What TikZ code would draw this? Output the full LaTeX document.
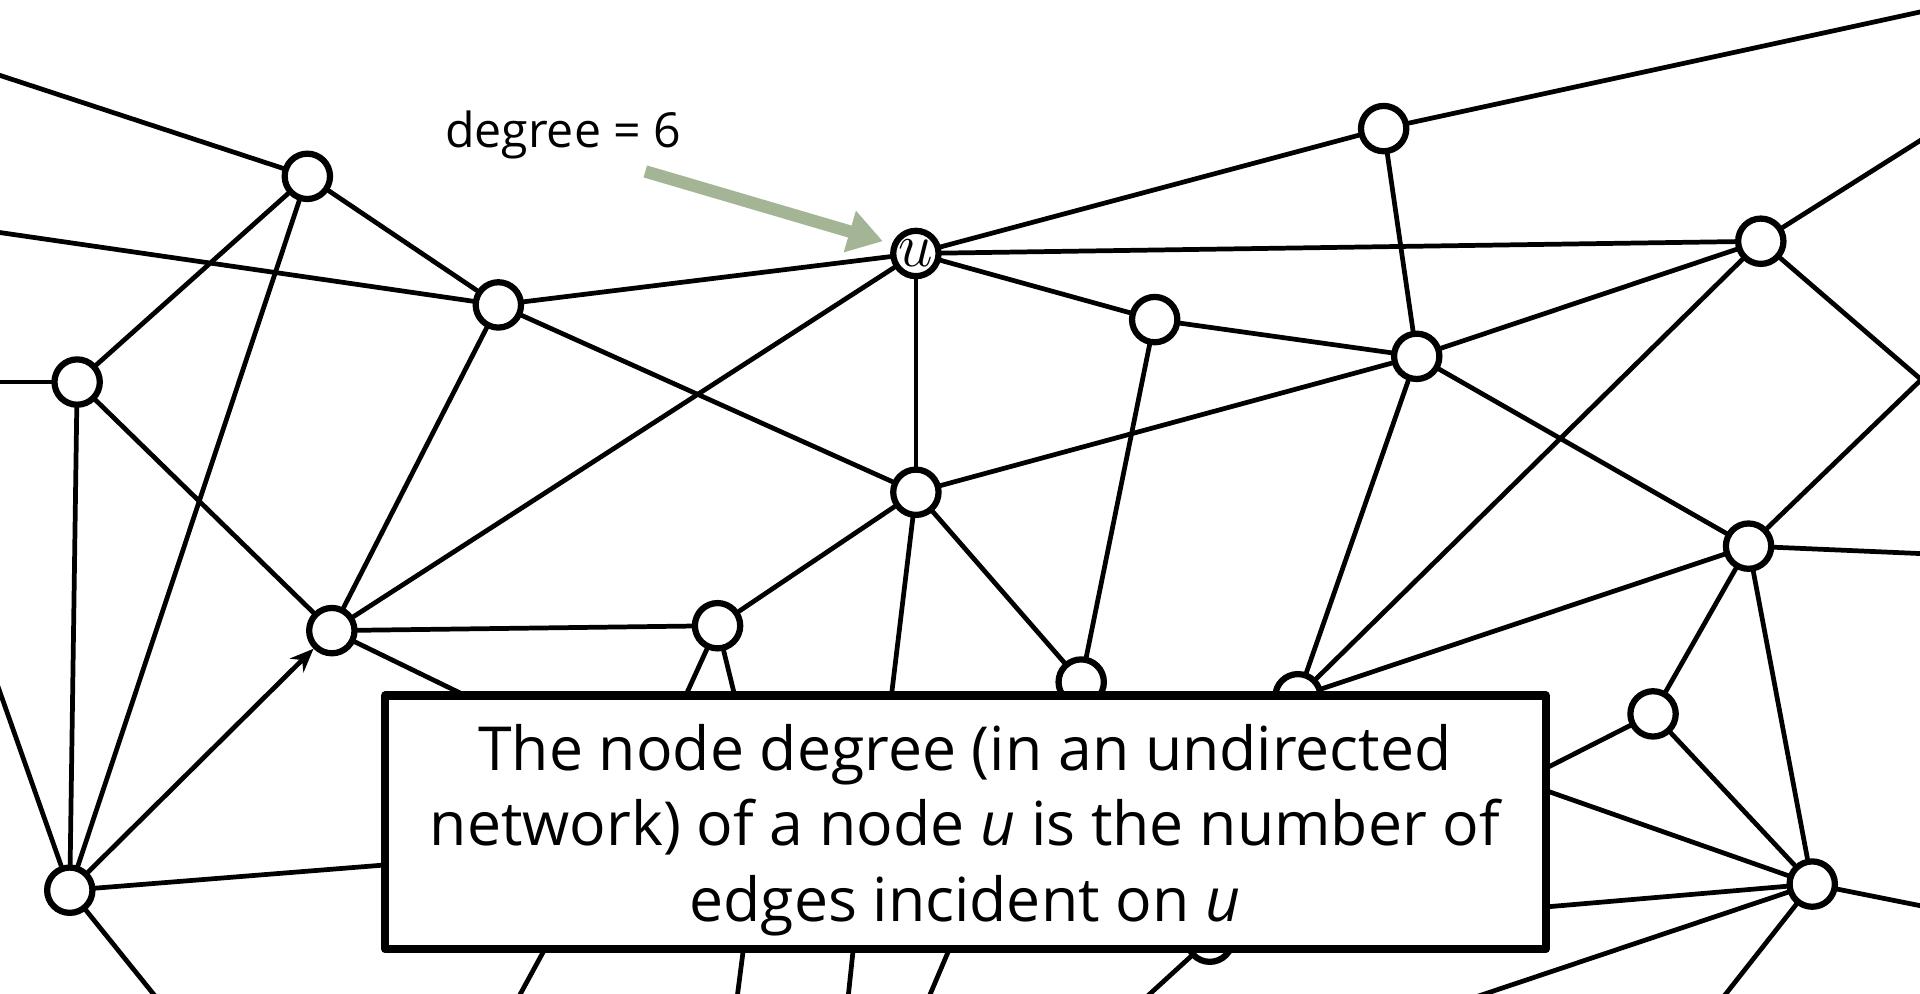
\documentclass[tikz,border=0pt]{standalone}
\usepackage{fontspec}
\setmainfont{Open Sans}
\usetikzlibrary{arrows.meta}
\definecolor{sage}{RGB}{163,181,149}
\begin{document}
\begin{tikzpicture}[x=0.01cm,y=-0.01cm,
  vert/.style={circle,draw=black,fill=white,line width=1.45pt,minimum size=0.37cm,inner sep=0pt},
  edge/.style={line width=1.1pt,black,line cap=round},
  ]
\useasboundingbox (0,0) rectangle (1568,811);
\clip (0,0) rectangle (1568,811);
% visible nodes
\node[vert] (n1) at (251,144) {};
\node[vert] (n2) at (407,249) {};
\node[vert,font=\fontsize{15}{15}\selectfont] (u) at (748,207) {$u$};
\node[vert] (n4) at (1130,105) {};
\node[vert] (n5) at (1438,197) {};
\node[vert] (n6) at (63,312) {};
\node[vert] (n7) at (943,261) {};
\node[vert] (n8) at (1157,291) {};
\node[vert] (n9) at (748,402) {};
\node[vert] (n10) at (1428,446) {};
\node[vert] (n11) at (271,515) {};
\node[vert] (n12) at (586,511) {};
\node[vert] (n13) at (883,557) {};
\node[vert] (n14) at (1060,569) {};
\node[vert] (n15) at (1350,583) {};
\node[vert] (n16) at (57,727) {};
\node[vert] (n17) at (1480,722) {};
\node[vert] (n18) at (988,767) {};
% off-canvas ends
\coordinate (l1) at (-20,55);
\coordinate (l2) at (-20,187);
\coordinate (l3) at (-20,312);
\coordinate (l4) at (-10,537);
\coordinate (l5) at (140,830);
\coordinate (r1) at (1590,5);
\coordinate (r2) at (1590,101);
\coordinate (r3) at (1569,310);
\coordinate (r4) at (1590,453);
\coordinate (r5) at (1590,744);
\coordinate (r6) at (1395,830);
\coordinate (r7) at (1158,830);
\coordinate (r8) at (919,830);
% hidden ends under the box
\coordinate (h1) at (489,621);
\coordinate (h2) at (444,696);
\coordinate (h3) at (534,625);
\coordinate (h4) at (614,625);
\coordinate (h5) at (722,618);
\coordinate (h6) at (1218,650);
\coordinate (h7) at (1218,630);
\coordinate (h8) at (1200,746);
\coordinate (b1i) at (464,740);
\coordinate (b1o) at (415,830);
\coordinate (b2i) at (611,745);
\coordinate (b2o) at (600,830);
\coordinate (b3i) at (700,745);
\coordinate (b3o) at (691,830);
\coordinate (b4i) at (788,745);
\coordinate (b4o) at (752,830);
% edges
\draw[edge] (l1) -- (n1);
\draw[edge] (l2) -- (n2);
\draw[edge] (l3) -- (n6);
\draw[edge] (n1) -- (n6);
\draw[edge] (n1) -- (n2);
\draw[edge] (n1) -- (n16);
\draw[edge] (n2) -- (u);
\draw[edge] (n2) -- (n9);
\draw[edge] (n2) -- (n11);
\draw[edge] (n6) -- (n11);
\draw[edge] (n6) -- (n16);
\draw[edge] (u) -- (n11);
\draw[edge] (u) -- (n9);
\draw[edge] (u) -- (n7);
\draw[edge] (u) -- (n5);
\draw[edge] (u) -- (n4);
\draw[edge] (n4) -- (r1);
\draw[edge] (n4) -- (n8);
\draw[edge] (n5) -- (r2);
\draw[edge] (n5) -- (n8);
\draw[edge] (n5) -- (n14);
\draw[edge] (n5) -- (r3);
\draw[edge] (n10) -- (r3);
\draw[edge] (n7) -- (n8);
\draw[edge] (n7) -- (n13);
\draw[edge] (n8) -- (n9);
\draw[edge] (n8) -- (n14);
\draw[edge] (n8) -- (n10);
\draw[edge] (n10) -- (r4);
\draw[edge] (n10) -- (n14);
\draw[edge] (n10) -- (n15);
\draw[edge] (n10) -- (n17);
\draw[edge] (n15) -- (n17);
\draw[edge] (n15) -- (h6);
\draw[edge] (n17) -- (h7);
\draw[edge] (n17) -- (h8);
\draw[edge] (n17) -- (r5);
\draw[edge] (n17) -- (r6);
\draw[edge] (n17) -- (r7);
\draw[edge] (n18) -- (r8);
\draw[edge] (n16) -- (l4);
\draw[edge] (n16) -- (l5);
\draw[edge] (n16) -- (h2);
\draw[edge,-{Stealth[length=5.5pt,width=4.5pt]}] (n16) -- (n11);
\draw[edge] (n11) -- (n12);
\draw[edge] (n11) -- (h1);
\draw[edge] (n12) -- (n9);
\draw[edge] (n12) -- (h3);
\draw[edge] (n12) -- (h4);
\draw[edge] (n9) -- (h5);
\draw[edge] (n9) -- (n13);
\draw[edge] (b1i) -- (b1o);
\draw[edge] (b2i) -- (b2o);
\draw[edge] (b3i) -- (b3o);
\draw[edge] (b4i) -- (b4o);
% definition box
\node[draw=black,fill=white,line width=1.9pt,line join=round,minimum width=9.47cm,minimum height=2.07cm,inner sep=0pt] (box) at (788.5,671.5) {};
\node[align=center,inner sep=0pt,font=\fontsize{14.1}{17.6}\selectfont] (boxtext) at (788,678)
  {The node degree (in an undirected\\network) of a node \textit{u} is the number of\\edges incident on \textit{u}};
% label and pointer
\node[font=\fontsize{11.2}{13}\selectfont,inner sep=0pt] (deg) at (460,110) {degree = 6};
\coordinate (gs) at (527,140);
\coordinate (gt) at (721,197);
\draw[sage,line width=2.9pt,-{Triangle[length=8pt,width=9.5pt]}] (gs) -- (gt);
\end{tikzpicture}
\end{document}
